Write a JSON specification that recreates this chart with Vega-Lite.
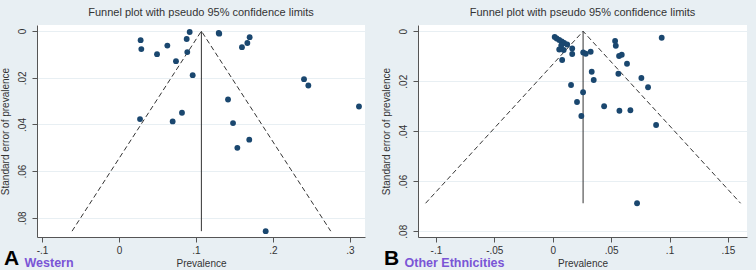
{
  "$schema": "https://vega.github.io/schema/vega-lite/v6.json",
  "background": "#e8eff3",
  "padding": {"left": 0, "top": 7, "right": 10, "bottom": 0},
  "spacing": 16,
  "datasets": {
    "ptsA": [
      {"p": 0.0281, "se": 0.0039, "g": "Western"},
      {"p": 0.0290, "se": 0.0077, "g": "Western"},
      {"p": 0.0494, "se": 0.0099, "g": "Western"},
      {"p": 0.0628, "se": 0.0062, "g": "Western"},
      {"p": 0.0740, "se": 0.0129, "g": "Western"},
      {"p": 0.0918, "se": 0.0004, "g": "Western"},
      {"p": 0.0879, "se": 0.0034, "g": "Western"},
      {"p": 0.0887, "se": 0.0090, "g": "Western"},
      {"p": 0.0957, "se": 0.0189, "g": "Western"},
      {"p": 0.1295, "se": 0.0008, "g": "Western"},
      {"p": 0.1302, "se": 0.0011, "g": "Western"},
      {"p": 0.1697, "se": 0.0026, "g": "Western"},
      {"p": 0.1667, "se": 0.0051, "g": "Western"},
      {"p": 0.1597, "se": 0.0069, "g": "Western"},
      {"p": 0.2403, "se": 0.0206, "g": "Western"},
      {"p": 0.2459, "se": 0.0233, "g": "Western"},
      {"p": 0.3117, "se": 0.0323, "g": "Western"},
      {"p": 0.1416, "se": 0.0293, "g": "Western"},
      {"p": 0.0818, "se": 0.0350, "g": "Western"},
      {"p": 0.0273, "se": 0.0377, "g": "Western"},
      {"p": 0.0697, "se": 0.0387, "g": "Western"},
      {"p": 0.1481, "se": 0.0394, "g": "Western"},
      {"p": 0.1692, "se": 0.0465, "g": "Western"},
      {"p": 0.1537, "se": 0.0500, "g": "Western"},
      {"p": 0.1905, "se": 0.0857, "g": "Western"}
    ],
    "ptsB": [
      {"p": 0.0017, "se": 0.0023, "g": "Other Ethnicities"},
      {"p": 0.0034, "se": 0.0029, "g": "Other Ethnicities"},
      {"p": 0.0056, "se": 0.0035, "g": "Other Ethnicities"},
      {"p": 0.0077, "se": 0.0041, "g": "Other Ethnicities"},
      {"p": 0.0098, "se": 0.0047, "g": "Other Ethnicities"},
      {"p": 0.0124, "se": 0.0053, "g": "Other Ethnicities"},
      {"p": 0.0073, "se": 0.0057, "g": "Other Ethnicities"},
      {"p": 0.0056, "se": 0.0073, "g": "Other Ethnicities"},
      {"p": 0.0094, "se": 0.0075, "g": "Other Ethnicities"},
      {"p": 0.0167, "se": 0.0069, "g": "Other Ethnicities"},
      {"p": 0.0167, "se": 0.0091, "g": "Other Ethnicities"},
      {"p": 0.0081, "se": 0.0115, "g": "Other Ethnicities"},
      {"p": 0.0261, "se": 0.0085, "g": "Other Ethnicities"},
      {"p": 0.0283, "se": 0.0090, "g": "Other Ethnicities"},
      {"p": 0.0325, "se": 0.0082, "g": "Other Ethnicities"},
      {"p": 0.0157, "se": 0.0215, "g": "Other Ethnicities"},
      {"p": 0.0260, "se": 0.0244, "g": "Other Ethnicities"},
      {"p": 0.0208, "se": 0.0283, "g": "Other Ethnicities"},
      {"p": 0.0245, "se": 0.0339, "g": "Other Ethnicities"},
      {"p": 0.0334, "se": 0.0162, "g": "Other Ethnicities"},
      {"p": 0.0351, "se": 0.0195, "g": "Other Ethnicities"},
      {"p": 0.0440, "se": 0.0300, "g": "Other Ethnicities"},
      {"p": 0.0534, "se": 0.0039, "g": "Other Ethnicities"},
      {"p": 0.0540, "se": 0.0058, "g": "Other Ethnicities"},
      {"p": 0.0568, "se": 0.0099, "g": "Other Ethnicities"},
      {"p": 0.0591, "se": 0.0094, "g": "Other Ethnicities"},
      {"p": 0.0562, "se": 0.0170, "g": "Other Ethnicities"},
      {"p": 0.0636, "se": 0.0130, "g": "Other Ethnicities"},
      {"p": 0.0571, "se": 0.0318, "g": "Other Ethnicities"},
      {"p": 0.0665, "se": 0.0316, "g": "Other Ethnicities"},
      {"p": 0.0759, "se": 0.0187, "g": "Other Ethnicities"},
      {"p": 0.0816, "se": 0.0224, "g": "Other Ethnicities"},
      {"p": 0.0933, "se": 0.0026, "g": "Other Ethnicities"},
      {"p": 0.0885, "se": 0.0375, "g": "Other Ethnicities"},
      {"p": 0.0722, "se": 0.0688, "g": "Other Ethnicities"}
    ],
    "funA": [
      {"p": -0.061, "se": 0.0857, "o": 1},
      {"p": 0.107, "se": 0, "o": 2},
      {"p": 0.275, "se": 0.0857, "o": 3}
    ],
    "midA": [
      {"p": 0.107, "se": 0, "o": 1},
      {"p": 0.107, "se": 0.0857, "o": 2}
    ],
    "funB": [
      {"p": -0.1088, "se": 0.0688, "o": 1},
      {"p": 0.026, "se": 0, "o": 2},
      {"p": 0.1608, "se": 0.0688, "o": 3}
    ],
    "midB": [
      {"p": 0.026, "se": 0, "o": 1},
      {"p": 0.026, "se": 0.0688, "o": 2}
    ]
  },
  "config": {
    "font": "Liberation Sans",
    "view": {"stroke": null, "fill": "white"},
    "title": {"font": "Liberation Sans", "fontSize": 11, "fontWeight": "normal", "color": "#333333", "offset": 7, "anchor": "middle"},
    "axis": {
      "domainColor": "#555555",
      "tickColor": "#555555",
      "tickSize": 5,
      "labelFont": "Liberation Sans",
      "labelFontSize": 10,
      "labelColor": "#333333",
      "titleFont": "Liberation Sans",
      "titleFontSize": 10,
      "titleFontWeight": "normal",
      "titleColor": "#333333",
      "gridColor": "#e8eff3",
      "gridWidth": 1
    },
    "legend": {
      "orient": "none",
      "direction": "horizontal",
      "titleOrient": "left",
      "titleFont": "Liberation Sans",
      "titleFontSize": 21,
      "titleFontWeight": "bold",
      "titleColor": "#000000",
      "titlePadding": -8,
      "labelFont": "Liberation Sans",
      "labelFontSize": 12.5,
      "labelFontWeight": "bold",
      "labelColor": "#7a55d6",
      "symbolOpacity": 0,
      "symbolSize": 0,
      "symbolStrokeWidth": 0,
      "labelOffset": 0,
      "titleBaseline": "alphabetic",
      "labelBaseline": "alphabetic"
    }
  },
  "resolve": {"scale": {"color": "independent", "x": "independent", "y": "independent"}, "legend": {"color": "independent"}},
  "hconcat": [
    {
      "title": "Funnel plot with pseudo 95% confidence limits",
      "width": 328,
      "height": 212,
      "layer": [
        {
          "data": {"name": "funA"},
          "mark": {"type": "line", "color": "#333333", "strokeWidth": 1, "strokeDash": [5, 3]},
          "encoding": {
            "x": {"field": "p", "type": "quantitative"},
            "y": {"field": "se", "type": "quantitative"},
            "order": {"field": "o"}
          }
        },
        {
          "data": {"name": "midA"},
          "mark": {"type": "line", "color": "#333333", "strokeWidth": 1},
          "encoding": {
            "x": {"field": "p", "type": "quantitative"},
            "y": {"field": "se", "type": "quantitative"},
            "order": {"field": "o"}
          }
        },
        {
          "data": {"name": "ptsA"},
          "mark": {"type": "circle", "size": 34, "opacity": 1},
          "encoding": {
            "x": {
              "field": "p", "type": "quantitative",
              "scale": {"domain": [-0.1065, 0.3195], "nice": false, "zero": false},
              "axis": {"title": "Prevalence", "values": [-0.1, 0, 0.1, 0.2, 0.3], "grid": false, "labelPadding": 3, "titlePadding": 3,
                "labelExpr": "datum.value == 0 ? '0' : (datum.value < 0 ? '-' : '') + replace(format(abs(datum.value), '~g'), '0.', '.')"}
            },
            "y": {
              "field": "se", "type": "quantitative",
              "scale": {"domain": [-0.0026, 0.0882], "nice": false, "zero": false, "reverse": true},
              "axis": {"title": "Standard error of prevalence", "values": [0, 0.02, 0.04, 0.06, 0.08], "grid": true, "labelAngle": 270, "labelAlign": "center", "labelBaseline": "bottom", "labelPadding": 5, "titlePadding": 7,
                "labelExpr": "datum.value == 0 ? '0' : replace(format(datum.value, '.2f'), '0.', '.')"}
            },
            "color": {
              "field": "g", "type": "nominal",
              "scale": {"range": ["#1a476f"]},
              "legend": {"title": "A", "legendX": -33, "legendY": 236}
            }
          }
        }
      ]
    },
    {
      "title": "Funnel plot with pseudo 95% confidence limits",
      "width": 329,
      "height": 212,
      "layer": [
        {
          "data": {"name": "funB"},
          "mark": {"type": "line", "color": "#333333", "strokeWidth": 1, "strokeDash": [5, 3]},
          "encoding": {
            "x": {"field": "p", "type": "quantitative"},
            "y": {"field": "se", "type": "quantitative"},
            "order": {"field": "o"}
          }
        },
        {
          "data": {"name": "midB"},
          "mark": {"type": "line", "color": "#333333", "strokeWidth": 1},
          "encoding": {
            "x": {"field": "p", "type": "quantitative"},
            "y": {"field": "se", "type": "quantitative"},
            "order": {"field": "o"}
          }
        },
        {
          "data": {"name": "ptsB"},
          "mark": {"type": "circle", "size": 34, "opacity": 1},
          "encoding": {
            "x": {
              "field": "p", "type": "quantitative",
              "scale": {"domain": [-0.1153, 0.1663], "nice": false, "zero": false},
              "axis": {"title": "Prevalence", "values": [-0.1, -0.05, 0, 0.05, 0.1, 0.15], "grid": false, "labelPadding": 3, "titlePadding": 3,
                "labelExpr": "datum.value == 0 ? '0' : (datum.value < 0 ? '-' : '') + replace(format(abs(datum.value), '~g'), '0.', '.')"}
            },
            "y": {
              "field": "se", "type": "quantitative",
              "scale": {"domain": [-0.0025, 0.0823], "nice": false, "zero": false, "reverse": true},
              "axis": {"title": "Standard error of prevalence", "values": [0, 0.02, 0.04, 0.06, 0.08], "grid": true, "labelAngle": 270, "labelAlign": "center", "labelBaseline": "bottom", "labelPadding": 5, "titlePadding": 7,
                "labelExpr": "datum.value == 0 ? '0' : replace(format(datum.value, '.2f'), '0.', '.')"}
            },
            "color": {
              "field": "g", "type": "nominal",
              "scale": {"range": ["#1a476f"]},
              "legend": {"title": "B", "legendX": -34, "legendY": 236}
            }
          }
        }
      ]
    }
  ]
}
